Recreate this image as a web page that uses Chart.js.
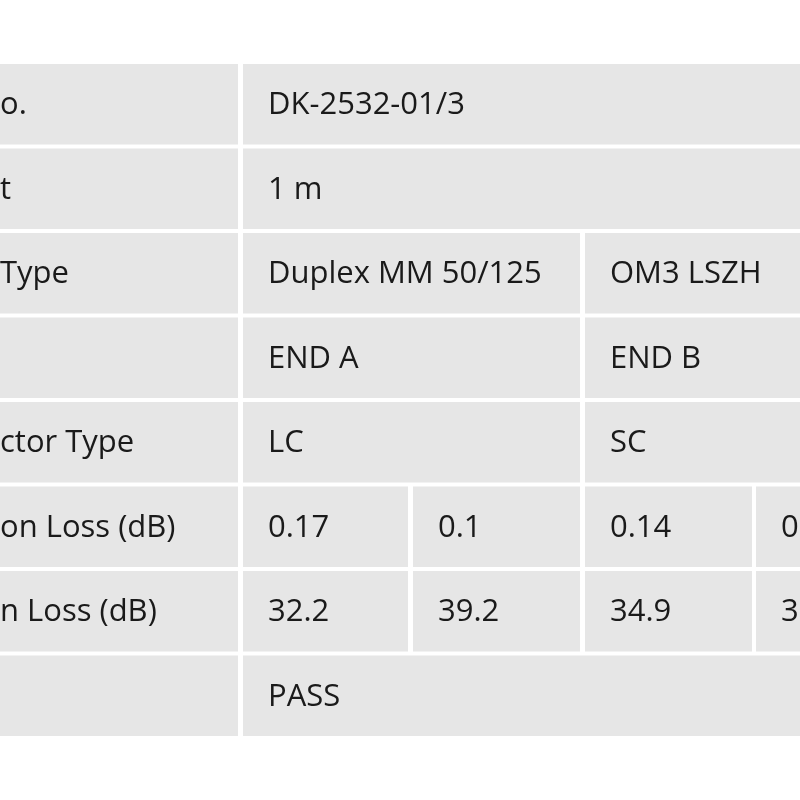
<!DOCTYPE html>
<html><head><meta charset="utf-8">
<script src="https://cdn.jsdelivr.net/npm/chart.js@4/dist/chart.umd.min.js"></script>
<style>html,body{margin:0;padding:0;background:#fff}</style>
</head><body>
<canvas id="c" width="800" height="800"></canvas>
<script>
const rows = ["r0","r1","r2","r3","r4","r5","r6","r7"];
const labelCol = ["o.","t","Type","","ctor Type","on Loss (dB)","n Loss (dB)",""];
const cellTexts = [
  ["DK-2532-01/3"],
  ["1 m"],
  ["Duplex MM 50/125","OM3 LSZH"],
  ["END A","END B"],
  ["LC","SC"],
  ["0.17","0.1","0.14","0.15"],
  ["32.2","39.2","34.9","35.1"],
  ["PASS"]
];
const col1 = [-10,238];
const spanFull = [[243,810]];
const spanHalf = [[243,580],[585,810]];
const spanQuarter = [[243,408],[413,580],[585,752],[756,810]];
const rowSpans = [spanFull,spanFull,spanHalf,spanHalf,spanHalf,spanQuarter,spanQuarter,spanFull];

const datasets = [];
datasets.push({data: rows.map(()=>col1)});
for (let k=0;k<4;k++) datasets.push({data: rowSpans.map(s=>s[k]||null)});
datasets.forEach(d=>{d.backgroundColor='#e6e6e6';d.borderWidth=0;d.grouped=false;d.categoryPercentage=1;d.barPercentage=0.955;});

const textPlugin = {
  id:'txt',
  afterDatasetsDraw(chart){
    const ctx=chart.ctx, xs=chart.scales.x, ys=chart.scales.y;
    ctx.save();
    ctx.font='31px "Open Sans", sans-serif';
    ctx.fillStyle='#1a1a1a';
    ctx.textBaseline='middle';
    rows.forEach((r,i)=>{
      const y=ys.getPixelForValue(i)+1;
      ctx.fillText(labelCol[i], xs.getPixelForValue(0), y);
      cellTexts[i].forEach((t,k)=>{
        ctx.fillText(t, xs.getPixelForValue(rowSpans[i][k][0]+25), y);
      });
    });
    ctx.restore();
  }
};

new Chart(document.getElementById('c'),{
  type:'bar',
  data:{labels:rows,datasets},
  options:{
    indexAxis:'y',responsive:false,animation:false,
    layout:{padding:{top:62,bottom:62,left:0,right:0}},
    plugins:{legend:{display:false},tooltip:{enabled:false}},
    scales:{
      x:{type:'linear',min:0,max:800,display:false},
      y:{display:false}
    }
  },
  plugins:[textPlugin]
});
</script>
</body></html>
